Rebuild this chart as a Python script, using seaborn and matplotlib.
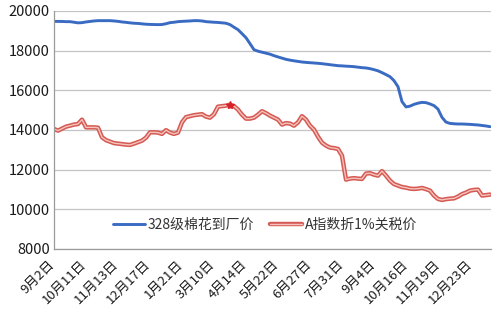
import numpy as np
import pandas as pd
import matplotlib
matplotlib.use("Agg")
import matplotlib.pyplot as plt
import matplotlib.patheffects as pe
import seaborn as sns

date_labels = ["9月2日", "10月11日", "11月13日", "12月17日", "1月21日", "3月10日", "4月14日",
               "5月22日", "6月27日", "7月31日", "9月4日", "10月16日", "11月19日", "12月23日"]

cotton_328 = [19473, 19473, 19470, 19460, 19460, 19430, 19400, 19410, 19445, 19470,
              19495, 19510, 19510, 19510, 19510, 19495, 19475, 19445, 19425, 19400,
              19380, 19370, 19350, 19330, 19320, 19315, 19310, 19315, 19355, 19410,
              19430, 19460, 19475, 19485, 19495, 19510, 19510, 19495, 19460, 19445,
              19430, 19420, 19400, 19380, 19310, 19180, 19055, 18855, 18650, 18350,
              18045, 17970, 17920, 17870, 17820, 17745, 17680, 17620, 17560, 17520,
              17485, 17455, 17425, 17405, 17390, 17375, 17360, 17340, 17315, 17290,
              17265, 17240, 17230, 17215, 17205, 17190, 17165, 17140, 17125, 17090,
              17040, 16980, 16890, 16790, 16685, 16485, 16180, 15425, 15160, 15200,
              15290, 15350, 15390, 15375, 15310, 15225, 15050, 14635, 14395, 14330,
              14310, 14300, 14300, 14290, 14280, 14265, 14250, 14225, 14200, 14165]

index_a = [14050, 13965, 14065, 14165, 14215, 14270, 14300, 14520, 14130, 14130,
           14130, 14115, 13630, 13485, 13410, 13335, 13310, 13285, 13260, 13245,
           13310, 13385, 13460, 13610, 13880, 13880, 13865, 13800, 13990, 13865,
           13800, 13865, 14385, 14645, 14695, 14745, 14770, 14795, 14670, 14620,
           14795, 15175, 15200, 15225, 15275, 15200, 15025, 14770, 14570, 14570,
           14620, 14770, 14945, 14845, 14720, 14620, 14520, 14270, 14345, 14320,
           14215, 14385, 14695, 14520, 14215, 14015, 13660, 13360, 13210, 13110,
           13085, 13040, 12705, 11495, 11545, 11570, 11545, 11530, 11800, 11820,
           11745, 11695, 11925, 11695, 11445, 11270, 11195, 11120, 11090, 11040,
           11025, 11040, 11075, 11015, 10940, 10690, 10520, 10470, 10510, 10535,
           10550, 10640, 10765, 10840, 10940, 10975, 10990, 10690, 10715, 10740]

name_blue = "328级棉花到厂价"
name_red = "A指数折1%关税价"

sns.set_style("white")
plt.rcParams["font.family"] = ["Noto Sans CJK SC", "DejaVu Sans"]

n = len(cotton_328)
df = pd.DataFrame({"idx": np.arange(n), name_blue: cotton_328, name_red: index_a})

fig = plt.figure(figsize=(5, 3.1), dpi=100)
ax = fig.add_axes([0.108, 0.197, 0.874, 0.7677])

sns.lineplot(data=df, x="idx", y=name_blue, color="#3a6bc3", lw=2.1, ax=ax, label=name_blue)
sns.lineplot(data=df, x="idx", y=name_red, color="#f4c4bc", lw=1.0, ax=ax, label=name_red,
             path_effects=[pe.Stroke(linewidth=3.2, foreground="#d65a54"), pe.Normal()])
peak = int(np.argmax(index_a))
ax.plot([peak], [index_a[peak]], marker="*", color="#d8202a", ms=6, ls="none")

ax.set_xlim(0, n - 0.75)
ax.set_ylim(8000, 20000)
ax.set_yticks(np.arange(8000, 20001, 2000))
ax.yaxis.grid(True, color="#c4c4c4", lw=0.9)
ax.xaxis.grid(False)
ax.set_xlabel("")
ax.set_ylabel("")
for s in ["top", "right"]:
    ax.spines[s].set_visible(False)
for s in ["left", "bottom"]:
    ax.spines[s].set_color("#9a9a9a")
    ax.spines[s].set_linewidth(0.9)

step_tick = 6.7
ax.set_xticks(np.arange(17) * step_tick)
ax.set_xticklabels([])
ax.tick_params(axis="x", which="major", length=4, color="#9a9a9a", width=0.9, direction="out")
ax.tick_params(axis="y", length=0, pad=3, labelsize=10.5, labelcolor="#1a1a1a")

step_lab = 8.04
for i, lab in enumerate(date_labels):
    ax.annotate(lab, xy=(-0.5 + step_lab * i, 0), xycoords=ax.get_xaxis_transform(),
                xytext=(0, -9.5), textcoords="offset points", rotation=45,
                ha="right", va="center", rotation_mode="anchor", fontsize=9.5,
                color="#1a1a1a", annotation_clip=False)

leg = ax.legend(loc="center", bbox_to_anchor=(0.483, 0.10), ncol=2, frameon=False,
                fontsize=10, handlelength=2.3, handletextpad=0.2, columnspacing=1.1)
for t in leg.get_texts():
    t.set_color("#333333")

fig.savefig("out.png", dpi=100, facecolor="white")
